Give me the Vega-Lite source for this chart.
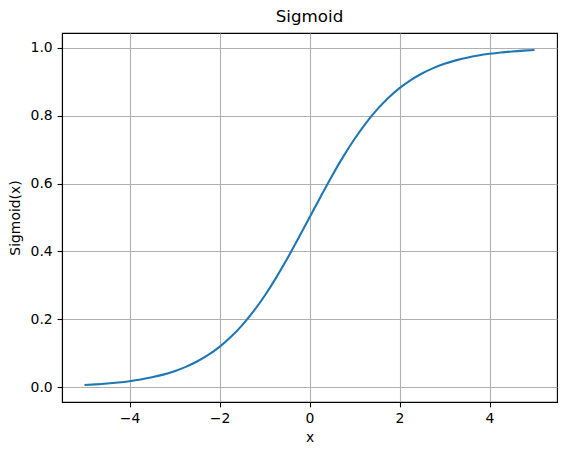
{
  "$schema": "https://vega.github.io/schema/vega-lite/v6.json",
  "width": 495,
  "height": 369,
  "autosize": {"type": "none"},
  "padding": {"left": 62, "top": 33, "right": 10, "bottom": 53},
  "background": "white",
  "title": {"text": "Sigmoid", "font": "DejaVu Sans", "fontSize": 16.7, "fontWeight": "normal", "color": "black", "offset": 7, "anchor": "middle"},
  "config": {
    "view": {"stroke": "black", "strokeWidth": 1.1},
    "axis": {
      "labelFont": "DejaVu Sans", "labelFontSize": 13.9, "labelColor": "black",
      "titleFont": "DejaVu Sans", "titleFontSize": 13.9, "titleColor": "black", "titleFontWeight": "normal",
      "tickColor": "black", "tickSize": 4.9, "tickWidth": 1.1, "labelPadding": 4.9,
      "domainColor": "black", "domainWidth": 1.1,
      "gridColor": "#b0b0b0", "gridWidth": 1.1, "gridOpacity": 1
    }
  },
  "data": {"values": [
    {"x": -5, "y": 0.00669}, {"x": -4.75, "y": 0.00858}, {"x": -4.5, "y": 0.01099}, {"x": -4.25, "y": 0.01406},
    {"x": -4, "y": 0.01799}, {"x": -3.75, "y": 0.02298}, {"x": -3.5, "y": 0.02931}, {"x": -3.25, "y": 0.03732},
    {"x": -3, "y": 0.04743}, {"x": -2.75, "y": 0.06009}, {"x": -2.5, "y": 0.07586}, {"x": -2.25, "y": 0.09534},
    {"x": -2, "y": 0.1192}, {"x": -1.75, "y": 0.14805}, {"x": -1.5, "y": 0.18243}, {"x": -1.25, "y": 0.2227},
    {"x": -1, "y": 0.26894}, {"x": -0.75, "y": 0.32082}, {"x": -0.5, "y": 0.37754}, {"x": -0.25, "y": 0.43782},
    {"x": 0, "y": 0.5},
    {"x": 0.25, "y": 0.56218}, {"x": 0.5, "y": 0.62246}, {"x": 0.75, "y": 0.67918}, {"x": 1, "y": 0.73106},
    {"x": 1.25, "y": 0.7773}, {"x": 1.5, "y": 0.81757}, {"x": 1.75, "y": 0.85195}, {"x": 2, "y": 0.8808},
    {"x": 2.25, "y": 0.90466}, {"x": 2.5, "y": 0.92414}, {"x": 2.75, "y": 0.93991}, {"x": 3, "y": 0.95257},
    {"x": 3.25, "y": 0.96268}, {"x": 3.5, "y": 0.97069}, {"x": 3.75, "y": 0.97702}, {"x": 4, "y": 0.98201},
    {"x": 4.25, "y": 0.98594}, {"x": 4.5, "y": 0.98901}, {"x": 4.75, "y": 0.99142}, {"x": 5, "y": 0.99331}
  ]},
  "mark": {"type": "line", "color": "#1f77b4", "strokeWidth": 2.1, "interpolate": "monotone"},
  "encoding": {
    "x": {"field": "x", "type": "quantitative", "scale": {"domain": [-5.5, 5.5], "nice": false, "zero": false},
      "axis": {"values": [-4, -2, 0, 2, 4], "title": "x", "titlePadding": 5, "format": "d"}},
    "y": {"field": "y", "type": "quantitative", "scale": {"domain": [-0.0433, 1.0433], "nice": false, "zero": false},
      "axis": {"values": [0, 0.2, 0.4, 0.6, 0.8, 1.0], "format": ".1f", "title": "Sigmoid(x)", "titlePadding": 8}}
  }
}
